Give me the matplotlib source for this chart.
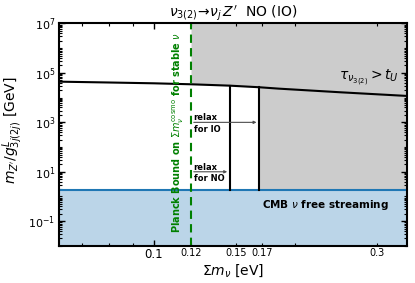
import numpy as np
import matplotlib
matplotlib.use("Agg")
import matplotlib.pyplot as plt
from matplotlib.ticker import FixedLocator, FixedFormatter, LogLocator, NullFormatter

# lifetime bound tau = t_U
sum_mnu = [0.0626, 0.08, 0.1, 0.12, 0.1454, 0.168, 0.185, 0.25, 0.348]
mz_over_g = [4.43e4, 4.1e4, 3.8e4, 3.47e4, 3.05e4, 2.63e4, 2.31e4, 1.65e4, 1.17e4]

planck_bound = 0.12
no_limit = 0.1454
io_limit = 0.168
cmb_limit = 1.84

xmin, xmax = 0.0626, 0.348
ymin, ymax = 1e-2, 1e7

minor_x = [0.07, 0.08, 0.09, 0.12, 0.15, 0.17, 0.2, 0.3]
minor_x_labels = ["", "", "", "0.12", "0.15", "0.17", "", "0.3"]

fig = plt.figure(figsize=(4.15, 2.83), dpi=100)
ax = fig.add_axes([0.142, 0.131, 0.839, 0.786])

x = np.array(sum_mnu)
y = np.array(mz_over_g)

# gray excluded regions
m = x >= planck_bound
xs = np.concatenate([[planck_bound], x[m]])
ys = np.concatenate([[np.interp(planck_bound, x, y)], y[m]])
ax.fill_between(xs, ys, ymax, color="0.8", lw=0)
m2 = x >= io_limit
xs2 = np.concatenate([[io_limit], x[m2]])
ys2 = np.concatenate([[np.interp(io_limit, x, y)], y[m2]])
ax.fill_between(xs2, cmb_limit, ys2, color="0.8", lw=0)

# CMB band
ax.axhspan(ymin, cmb_limit, color="tab:blue", alpha=0.3, lw=0)
ax.axhline(cmb_limit, color="tab:blue", lw=1.5)

# lifetime line
ax.plot(x, y, color="k", lw=1.5)
ax.plot([no_limit, no_limit], [cmb_limit, np.interp(no_limit, x, y)], color="k", lw=1.5)
ax.plot([io_limit, io_limit], [cmb_limit, np.interp(io_limit, x, y)], color="k", lw=1.5)

# Planck bound
ax.axvline(planck_bound, color="green", ls="--", lw=1.5, dashes=(4, 2.5))
ax.text(0.1125, 3.7e2, r"Planck Bound on $\Sigma m_\nu^{\rm cosmo}$ for stable $\nu$",
        rotation=90, color="green", fontsize=7, fontweight="bold", ha="center", va="center")

# relax arrows
ax.annotate("", xy=(io_limit, 1e3), xytext=(planck_bound, 1e3),
            arrowprops=dict(arrowstyle="-|>", color="0.3", lw=0.8, mutation_scale=4))
ax.annotate("", xy=(no_limit, 1e1), xytext=(planck_bound, 1e1),
            arrowprops=dict(arrowstyle="-|>", color="0.3", lw=0.8, mutation_scale=4))
ax.text(0.1215, 9e2, "relax\nfor IO", fontsize=6, fontweight="bold", va="center", ha="left", linespacing=1.3)
ax.text(0.1215, 9, "relax\nfor NO", fontsize=6, fontweight="bold", va="center", ha="left", linespacing=1.3)

ax.text(0.17, 0.45, r"CMB $\nu$ free streaming", fontsize=7.5, fontweight="bold", va="center", ha="left")
ax.text(0.334, 6.2e4, r"$\tau_{\nu_{3(2)}} > t_U$", fontsize=10, ha="right", va="center")

ax.set_xscale("log")
ax.set_yscale("log")
ax.set_xlim(xmin, xmax)
ax.set_ylim(ymin, ymax)

ax.xaxis.set_major_locator(FixedLocator([0.1]))
ax.xaxis.set_major_formatter(FixedFormatter(["0.1"]))
ax.xaxis.set_minor_locator(FixedLocator(minor_x))
ax.xaxis.set_minor_formatter(FixedFormatter(minor_x_labels))

ax.yaxis.set_major_locator(FixedLocator([1e-1, 1e1, 1e3, 1e5, 1e7]))
ax.yaxis.set_major_formatter(FixedFormatter([r"$10^{-1}$", r"$10^{1}$", r"$10^{3}$", r"$10^{5}$", r"$10^{7}$"]))
ax.yaxis.set_minor_locator(LogLocator(base=10, subs=np.arange(1, 10), numticks=100))
ax.yaxis.set_minor_formatter(NullFormatter())

ax.tick_params(which="both", direction="in", top=True, right=True)
ax.tick_params(which="major", length=4, width=1, labelsize=8.5, pad=3)
ax.tick_params(which="minor", length=2, width=0.8, labelsize=7, pad=3)
ax.tick_params(axis="x", which="both", pad=1.5)
ax.tick_params(axis="y", which="major", labelsize=8, pad=2.5)
for s in ax.spines.values():
    s.set_linewidth(1.5)

ax.set_xlabel(r"$\Sigma m_\nu$ [eV]", fontsize=10, labelpad=1)
ax.set_ylabel(r"$m_{Z'}/g^L_{3j(2j)}$ [GeV]", fontsize=10)
ax.yaxis.set_label_coords(-0.098, 0.52)
ax.set_title(r"$\nu_{3(2)}\!\to\!\nu_j\,Z'$  NO (IO)", fontsize=10, pad=3)

fig.savefig("out.png", dpi=100)
